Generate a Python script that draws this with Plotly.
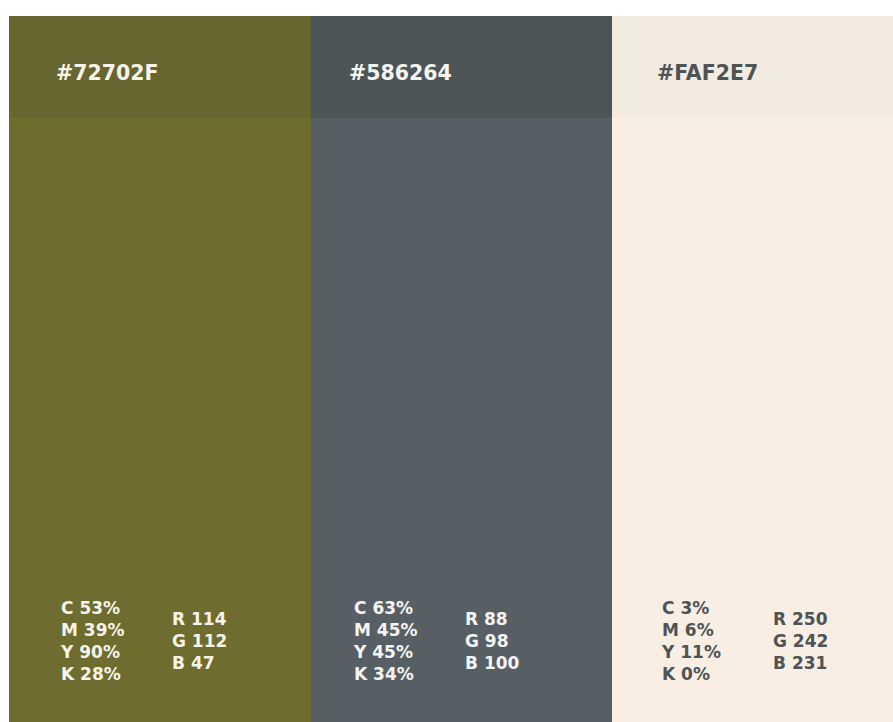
import plotly.graph_objects as go

HEX_CODES = ["#72702F", "#586264", "#FAF2E7"]
CMYK = [
    ["C 53%", "M 39%", "Y 90%", "K 28%"],
    ["C 63%", "M 45%", "Y 45%", "K 34%"],
    ["C 3%", "M 6%", "Y 11%", "K 0%"],
]
RGB = [
    ["R 114", "G 112", "B 47"],
    ["R 88", "G 98", "B 100"],
    ["R 250", "G 242", "B 231"],
]

# colours as they appear in the picture (body / header band / text)
BODY_COLORS = ["#6E6C2E", "#585F64", "#F8EEE4"]
HEADER_COLORS = ["#676530", "#4C5456", "#F3EAE0"]
TEXT_COLORS = ["#F7F4EA", "#F4F4F2", "#4E5355"]

W, H = 893, 722
TOP, LEFT = 16, 9
HEADER_PX = 102
BODY_PX = H - TOP - HEADER_PX
COL_PX = 301.7
# small per-column horizontal nudges of the text, in px
NUDGE = [0, -9, -2]

x = list(range(len(HEX_CODES)))

fig = go.Figure()
fig.add_trace(go.Bar(
    x=x, y=[BODY_PX] * 3, width=1,
    marker=dict(color=BODY_COLORS, line=dict(width=0)),
    hoverinfo="skip",
))
fig.add_trace(go.Bar(
    x=x, y=[HEADER_PX] * 3, width=1,
    marker=dict(color=HEADER_COLORS, line=dict(width=0)),
    hoverinfo="skip",
))

font = "DejaVu Sans"
for i, code in enumerate(HEX_CODES):
    left = i - 0.5 + NUDGE[i] / COL_PX
    fig.add_annotation(
        x=left + 45 / COL_PX, y=BODY_PX + HEADER_PX / 2 - 5.5, xref="x", yref="y",
        text=code, showarrow=False, xanchor="left", yanchor="middle",
        font=dict(family=font, size=20.5, color=TEXT_COLORS[i], weight="bold"),
    )
    fig.add_annotation(
        x=left + 49 / COL_PX, y=81, xref="x", yref="y",
        text="<br>".join(CMYK[i]), showarrow=False, align="left",
        xanchor="left", yanchor="middle",
        font=dict(family=font, size=17, color=TEXT_COLORS[i], weight="bold"),
    )
    fig.add_annotation(
        x=left + 161 / COL_PX, y=81.5, xref="x", yref="y",
        text="<br>".join(RGB[i]), showarrow=False, align="left",
        xanchor="left", yanchor="middle",
        font=dict(family=font, size=17, color=TEXT_COLORS[i], weight="bold"),
    )

fig.update_layout(
    barmode="stack",
    bargap=0,
    showlegend=False,
    width=W,
    height=H,
    margin=dict(l=LEFT, r=0, t=TOP, b=0, pad=0),
    paper_bgcolor="white",
    plot_bgcolor="white",
    xaxis=dict(range=[-0.5, (W - LEFT) / COL_PX - 0.5], visible=False, fixedrange=True),
    yaxis=dict(range=[0, H - TOP], visible=False, fixedrange=True),
)

fig.write_html(
    "out.html",
    config={"displayModeBar": False},
    post_script="document.body.style.margin='0';document.body.style.overflow='hidden';",
)
